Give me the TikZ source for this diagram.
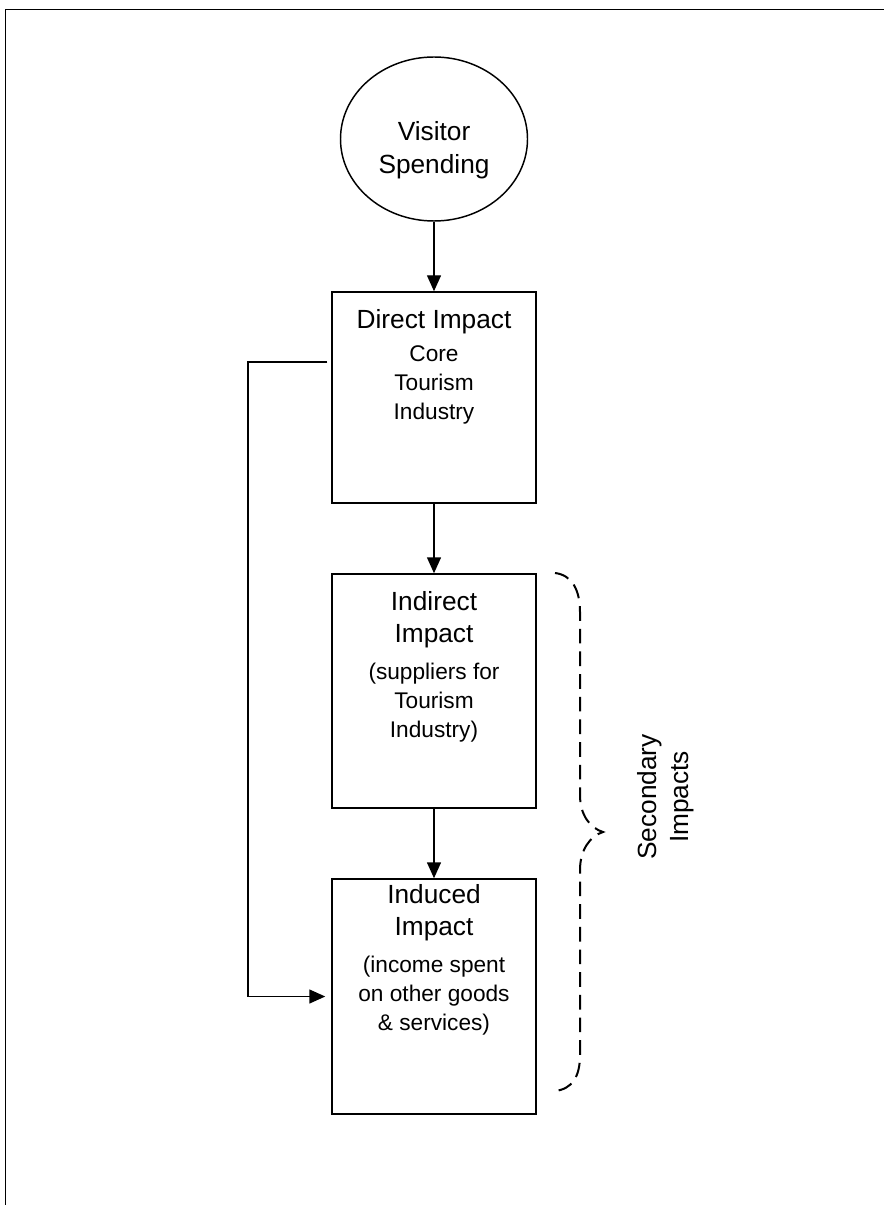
\documentclass[tikz,border=0pt]{standalone}
\usepackage{fontspec}
\setmainfont{Liberation Sans}
\usetikzlibrary{arrows.meta,shapes.geometric}

\newcommand{\headfont}{\fontsize{19.7pt}{24pt}\selectfont}
\newcommand{\notefont}{\fontsize{17pt}{21.75pt}\selectfont}

\tikzset{every picture/.style={line width=1.1pt},
  impactbox/.style={draw, rectangle, minimum width=153pt, inner sep=0pt},
  boxtext/.style={anchor=north, align=center, inner sep=0pt, font=\notefont},
  link/.style={-{Triangle[length=12pt,width=10.5pt]}},
}

\begin{document}
\begin{tikzpicture}[x=0.75pt,y=0.75pt,yscale=-1,xscale=1]
\useasboundingbox (0,0) rectangle (884,1205);

%Straight Lines: page frame
\draw (5.5,1205) -- (5.5,9.5) -- (884,9.5) ;

%Shape: Ellipse
\node [draw, ellipse, minimum width=140.25pt, minimum height=123pt, inner sep=0pt] (visitor) at (434,139) {};
% Text Node
\node [anchor=north, align=center, inner sep=0pt, font=\headfont] (visitortxt) at (434,120.5) {Visitor\\[1pt]Spending};

%Shape: Rectangle
\node [impactbox, minimum height=158.25pt] (direct) at (434,397.5) {};
%Shape: Rectangle
\node [impactbox, minimum height=175.5pt] (indirect) at (434,691) {};
%Shape: Rectangle
\node [impactbox, minimum height=176.25pt] (induced) at (434,996.5) {};

% Text Node
\node [boxtext] (directtxt) at (434,309) {\headfont Direct Impact\\[2.5pt]Core\\Tourism\\Industry};
% Text Node
\node [boxtext] (indirecttxt) at (434,591) {\headfont Indirect\\[2.25pt]\headfont Impact\\[5.5pt](suppliers for\\Tourism\\Industry)};
% Text Node
\node [boxtext] (inducedtxt) at (434,884) {\headfont Induced\\[2.25pt]\headfont Impact\\[5.5pt](income spent\\on other goods\\\& services)};

%Straight Lines
\draw [link] (visitor) -- (direct) ;
%Straight Lines
\draw [link] (direct) -- (indirect) ;
%Straight Lines
\draw [link] (indirect) -- (induced) ;

%Straight Lines: feedback
\coordinate (fb) at (248,362) ;
\draw [link, shorten <=3pt, shorten >=4.5pt] (direct.west |- fb) -- (fb) |- (induced.west) ;

%Shape: Brace
\draw [line width=1.5pt, dash pattern={on 11pt off 6pt}] (555,573) .. controls (572,575) and (580,590) .. (580,612) -- (580,795) .. controls (580,815) and (590,828) .. (603,832) .. controls (590,836) and (580,850) .. (580,870) -- (580,1055) .. controls (580,1077) and (572,1089) .. (555,1091) ;

% Text Node
\node [rotate=90, align=center, font=\headfont, inner sep=0pt] (secondary) at (666,797) {Secondary\\Impacts};

\end{tikzpicture}
\end{document}
